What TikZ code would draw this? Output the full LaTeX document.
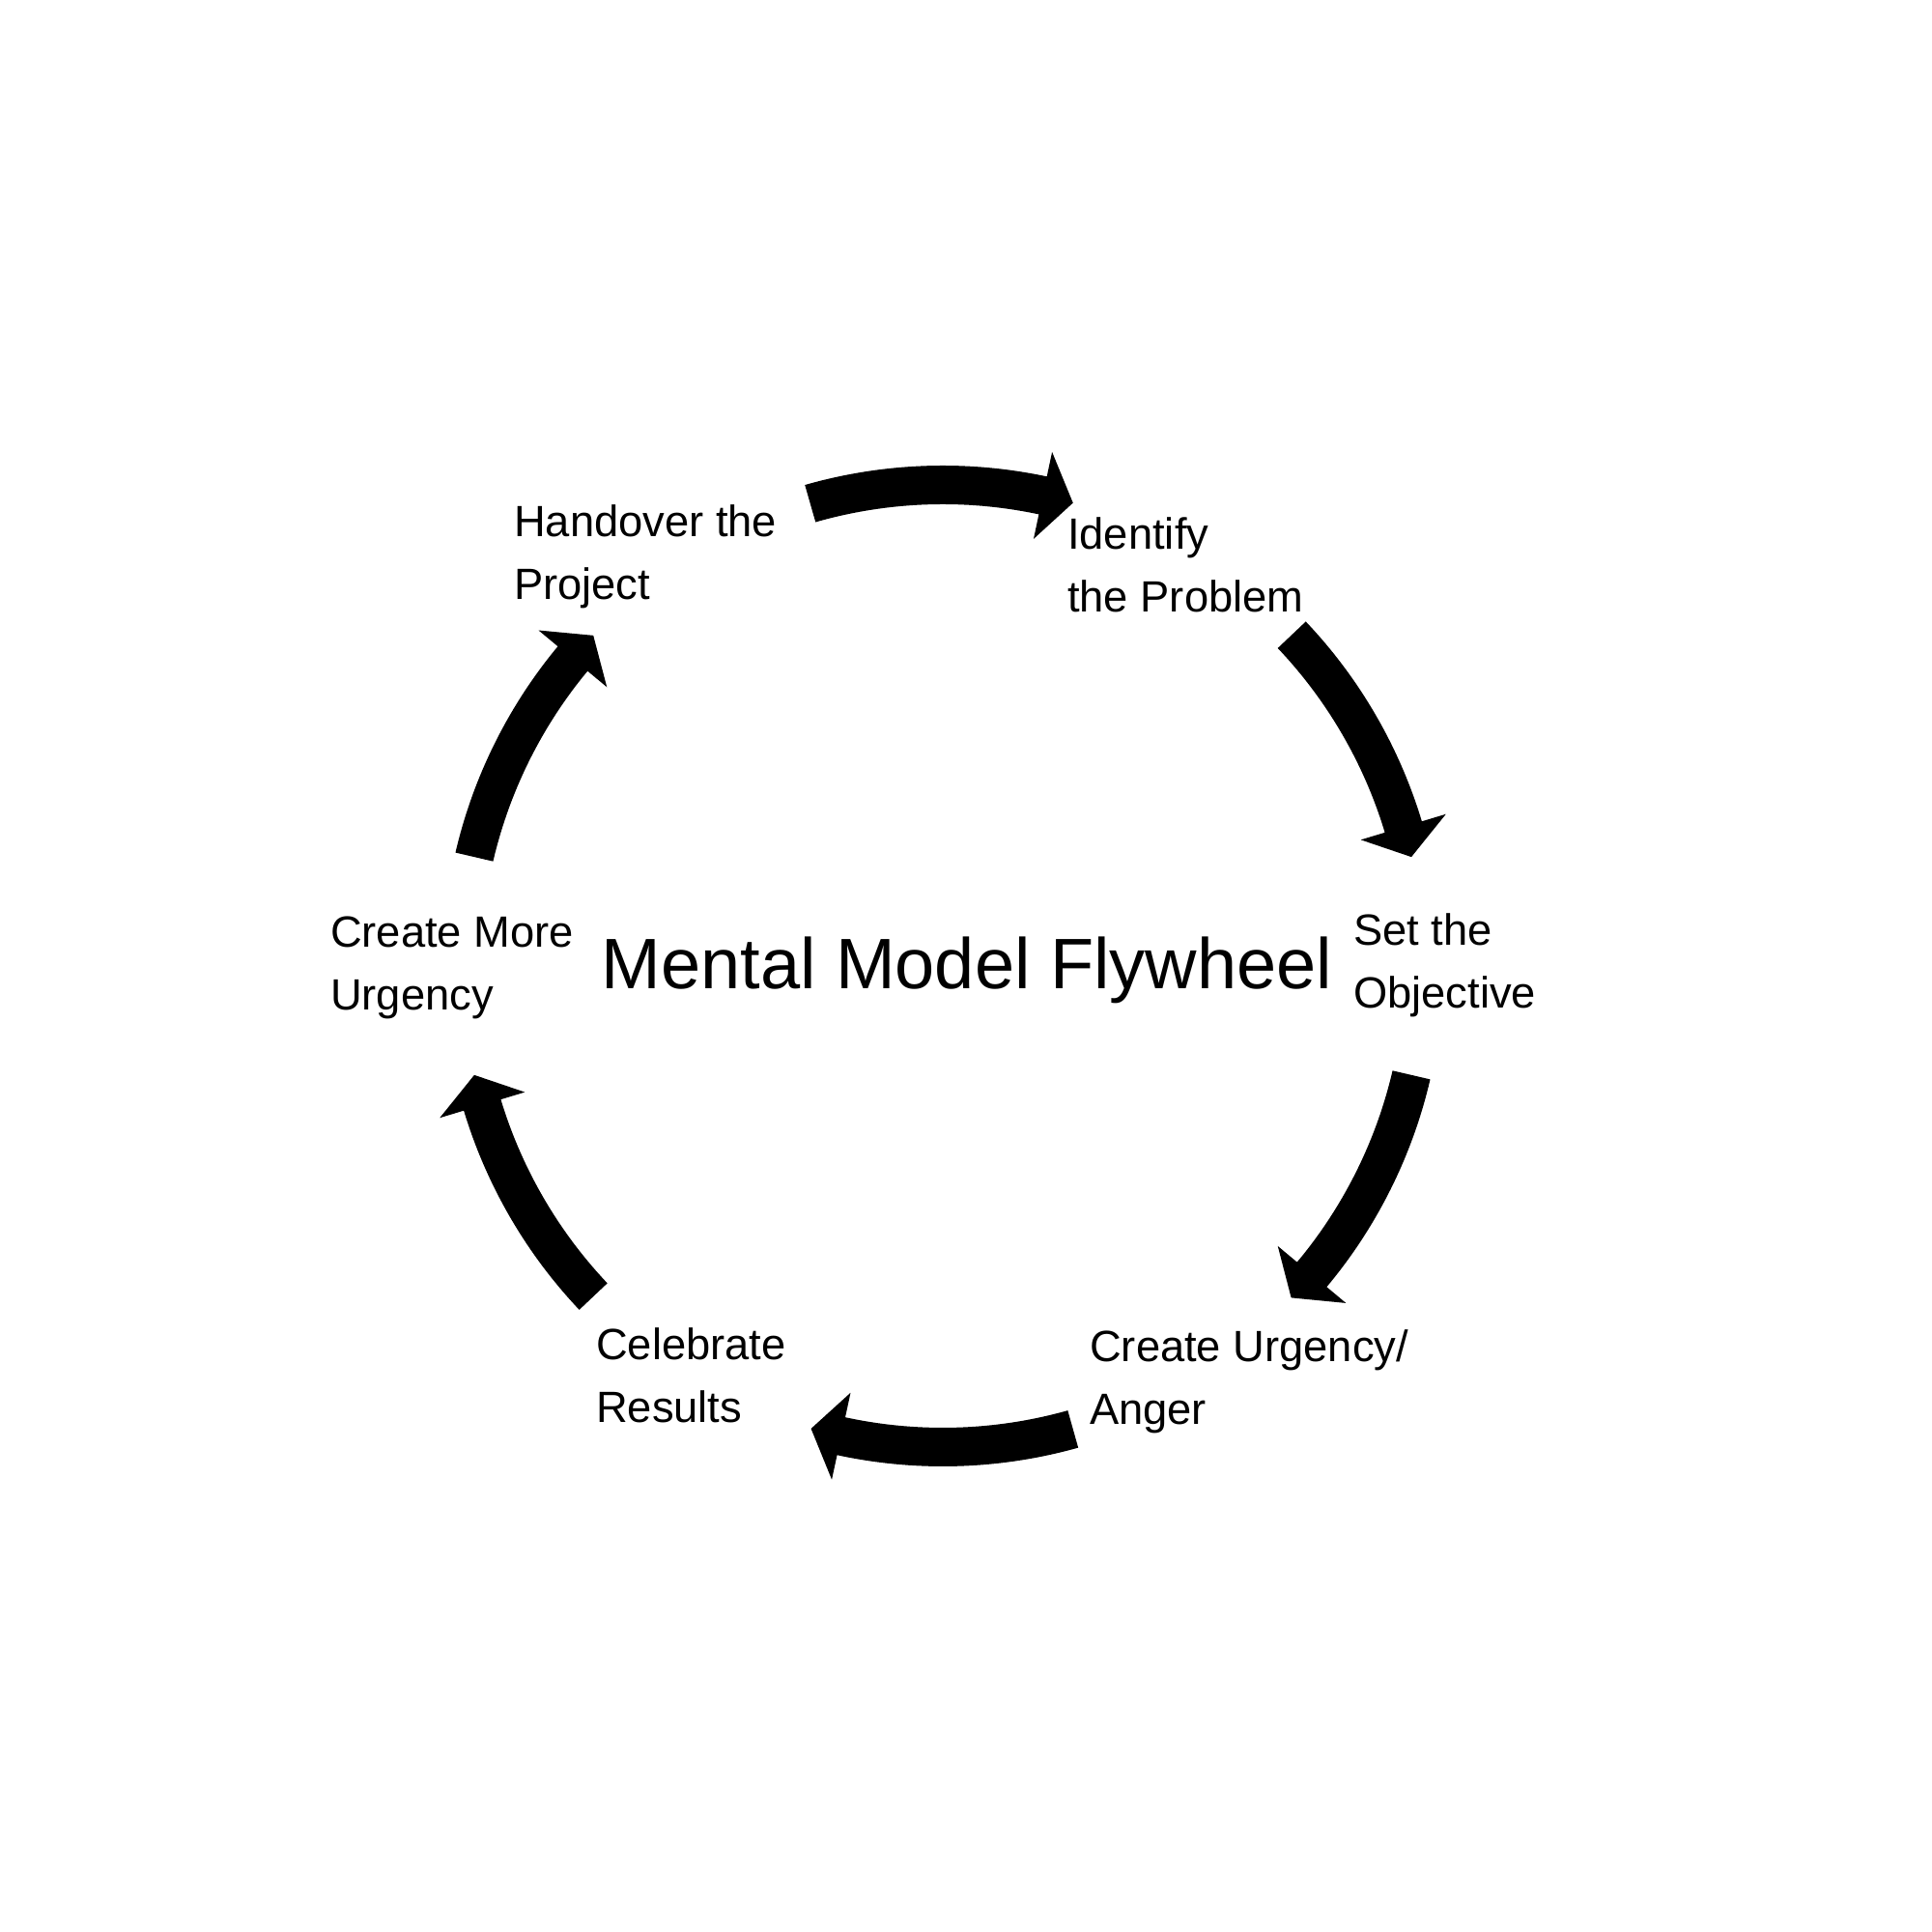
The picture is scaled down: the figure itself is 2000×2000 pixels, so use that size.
\documentclass[tikz,border=0pt]{standalone}
\usepackage{fontspec}
\setmainfont{Liberation Sans}
\newcommand\flytwo[2]{\begin{tabular}[t]{@{}l@{}}#1\\#2\end{tabular}}
\newcommand\flyarrow[2]{%
  \pgfmathsetmacro\flyhb{#2+3.7}%
  \fill[arrowfill] (#1:518) arc[start angle=#1,end angle=\flyhb,radius=518]
    -- (\flyhb:544) -- (#2:498) -- (\flyhb:452) -- (\flyhb:478)
    arc[start angle=\flyhb,end angle=#1,radius=478] -- cycle;}
\tikzset{
  lbl/.style={anchor=base west, inner sep=0pt, font=\fontsize{45.3}{65}\selectfont},
  ttl/.style={anchor=base, inner sep=0pt, font=\fontsize{74}{90}\selectfont},
  arrowfill/.style={fill=black}
}
\begin{document}
\begin{tikzpicture}[x=1pt,y=1pt]
  \useasboundingbox[fill=white] (0,0) rectangle (2000,2000);
  \coordinate (c) at (976,1000);
  \begin{scope}[shift={(c)}]
    \flyarrow{106}{74.3}
    \flyarrow{43.5}{13.1}
    \flyarrow{-13.1}{-43.6}
    \flyarrow{-74.3}{-105.9}
    \flyarrow{-136.6}{-166.9}
    \flyarrow{166.9}{136.6}
  \end{scope}
  \node[ttl] (title) at (1001,976) {Mental Model Flywheel};
  \node[lbl] (handover) at (532,1444) {\flytwo{Handover the}{Project}};
  \node[lbl] (identify) at (1105,1431) {\flytwo{Identify}{the Problem}};
  \node[lbl] (objective) at (1401,1021) {\flytwo{Set the}{Objective}};
  \node[lbl] (urgency) at (1128,590) {\flytwo{Create Urgency/}{Anger}};
  \node[lbl] (celebrate) at (617,592) {\flytwo{Celebrate}{Results}};
  \node[lbl] (more) at (342,1019) {\flytwo{Create More}{Urgency}};
\end{tikzpicture}
\end{document}
